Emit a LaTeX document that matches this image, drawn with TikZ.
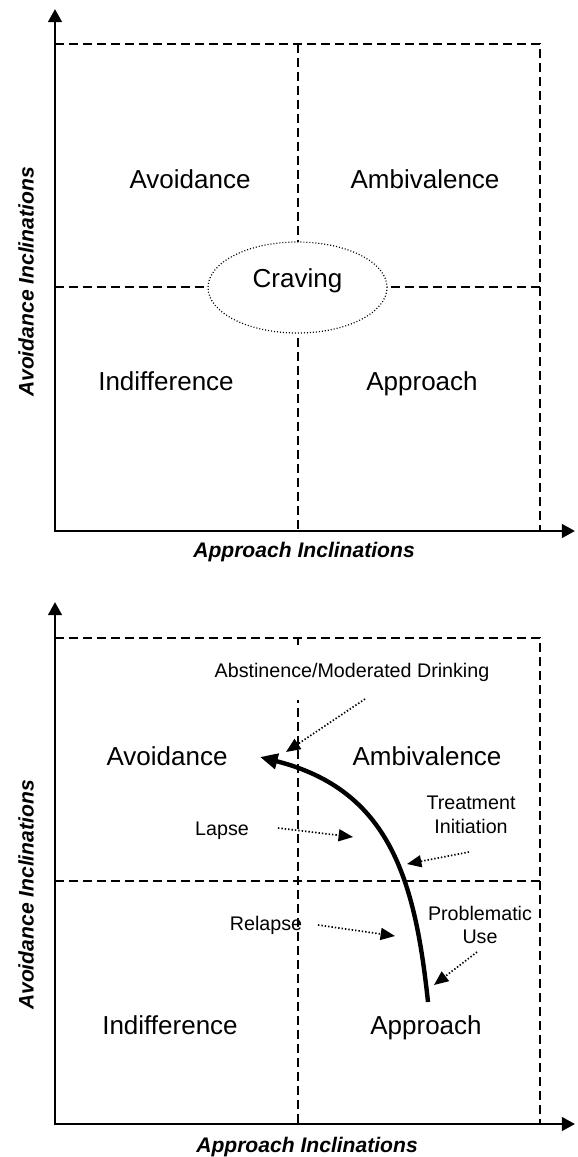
\documentclass[tikz,border=0pt]{standalone}
\usepackage{fontspec}
\setmainfont{Liberation Sans}
\usepackage{tikz}
\usetikzlibrary{arrows.meta,positioning,shapes.geometric}

\begin{document}
\begin{tikzpicture}[x=0.25mm,y=-0.25mm,
  axis/.style={line width=0.7mm, {Triangle[length=3.3mm,width=3.4mm]}-{Triangle[length=3.3mm,width=3.4mm]}},
  gridline/.style={line width=0.33mm, dash pattern=on 2.25mm off 1.25mm},
  quad/.style={font=\fontsize{18.5}{22}\selectfont, text height=4.7mm, text depth=1.3mm},
  note/.style={font=\fontsize{14}{17}\selectfont, align=center},
  axlabel/.style={font=\fontsize{15}{18}\selectfont\bfseries\itshape},
  pointer/.style={line width=0.42mm, dash pattern=on 0.35mm off 0.5mm, -{Triangle[length=3.6mm,width=3mm]}},
  course/.style={line width=1.1mm, -{Triangle[length=4.4mm,width=3.8mm]}}]
  \useasboundingbox (0,0) rectangle (577,1157);

  % upper quadrant plot
  \draw[gridline] (55,44) -- (540,44) -- (540,531);
  \draw[gridline] (298,44) -- (298,531);
  \draw[gridline] (55,287) -- (540,287);
  \node[ellipse, draw, fill=white, line width=0.3mm, dash pattern=on 0.25mm off 0.5mm, minimum width=44.75mm, minimum height=22.75mm, inner sep=0pt, quad, text height=4.6mm, text depth=4.6mm] (crav) at (297.5,287.5) {Craving};
  \draw[axis] (55,9) |- (575,531);
  \node[quad] (avo1) at (190,182) {Avoidance};
  \node[quad] (amb1) at (425,182) {Ambivalence};
  \node[quad] (ind1) at (166,384) {Indifference};
  \node[quad] (app1) at (422,384) {Approach};
  \node[axlabel] (xl1) at (304,552) {Approach Inclinations};
  \node[axlabel, rotate=90] (yl1) at (26,282) {Avoidance Inclinations};

  % lower plot with the course of change
  \draw[gridline] (55,638) -- (540,638) -- (540,1124);
  \draw[gridline] (298,638) -- (298,1124);
  \draw[gridline] (55,881) -- (540,881);
  \draw[axis] (55,602) |- (575,1124);
  \node[note, fill=white, minimum height=13.75mm] (abst) at (352,672) {Abstinence/Moderated Drinking};
  \node[quad] (avo2) at (167,759) {Avoidance};
  \node[quad] (amb2) at (427,759) {Ambivalence};
  \node[quad] (ind2) at (170,1028) {Indifference};
  \node[quad] (app2) at (426,1028) {Approach};
  \node[note] (lapse) at (222,831) {Lapse};
  \node[note] (treat) at (471,815) {Treatment\\Initiation};
  \node[note] (relapse) at (266,925) {Relapse};
  \node[note] (prob) at (480,925) {Problematic\\Use};
  \node[axlabel] (xl2) at (307,1147) {Approach Inclinations};
  \node[axlabel, rotate=90] (yl2) at (26,895) {Avoidance Inclinations};

  \coordinate (use) at (428,1002);
  \coordinate (abstain) at (260,757);
  \draw[course] (use) .. controls (415,880) and (390,790) .. (abstain);

  \coordinate (abs1) at (365,699);
  \coordinate (abs2) at (286,752);
  \coordinate (lap1) at (278,828);
  \coordinate (lap2) at (353,837);
  \coordinate (tre1) at (469,852);
  \coordinate (tre2) at (407,864);
  \coordinate (rel1) at (318,925);
  \coordinate (rel2) at (395,936);
  \coordinate (pro1) at (477,952);
  \coordinate (pro2) at (434,985);
  \draw[pointer] (abs1) -- (abs2);
  \draw[pointer] (lap1) -- (lap2);
  \draw[pointer] (tre1) -- (tre2);
  \draw[pointer] (rel1) -- (rel2);
  \draw[pointer] (pro1) -- (pro2);
\end{tikzpicture}
\end{document}
